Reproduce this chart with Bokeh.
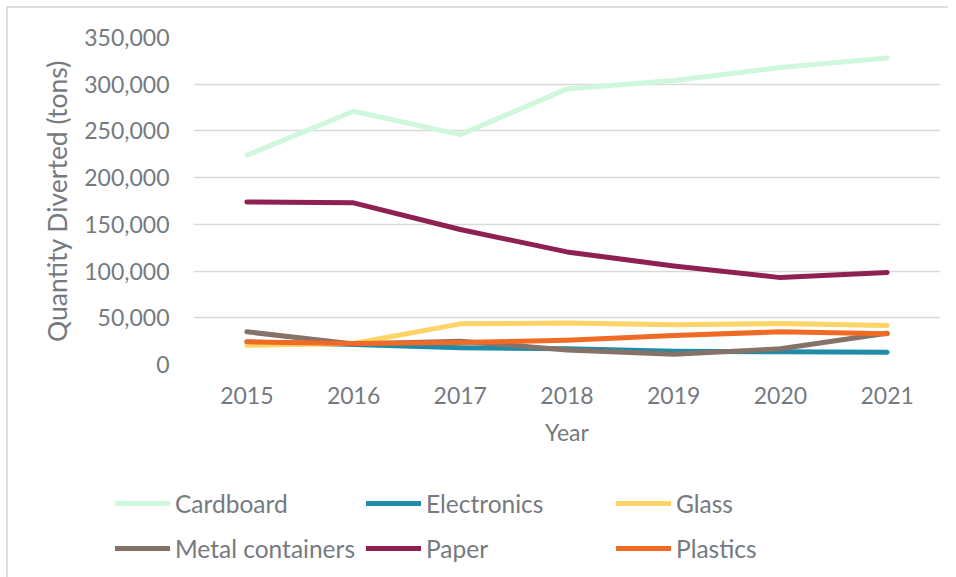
from bokeh.plotting import figure
from bokeh.layouts import column, row
from bokeh.models import Range1d, NumeralTickFormatter, Legend, LegendItem, FixedTicker
from bokeh.embed import file_html
from bokeh.resources import INLINE

years = ["2015", "2016", "2017", "2018", "2019", "2020", "2021"]
cardboard = [224000, 271000, 246000, 295000, 304000, 318000, 328000]
electronics = [24000, 21500, 18000, 16800, 14300, 13600, 13200]
glass = [20500, 22500, 43500, 44500, 42500, 43900, 41800]
metal = [35000, 22000, 25000, 15500, 11000, 16800, 33500]
paper = [174000, 173000, 144500, 120500, 105500, 93000, 98500]
plastics = [24300, 22500, 23500, 26000, 31000, 35000, 32800]
y_ticks = [0, 50000, 100000, 150000, 200000, 250000, 300000, 350000]

series_names = ["Cardboard", "Electronics", "Glass", "Metal containers", "Paper", "Plastics"]
series_vals = [cardboard, electronics, glass, metal, paper, plastics]
colors = ["#CFF7DC", "#1F8CA8", "#FFD466", "#857369", "#8F2152", "#EF6A25"]

FONT = "Lato"
TXT = "#757a80"
LW = 5

p = figure(x_range=years, y_range=Range1d(0, 350000),
           frame_width=747, frame_height=327,
           min_border_left=185, min_border_top=29, min_border_right=8, min_border_bottom=95,
           output_backend="svg", toolbar_location=None)
p.outline_line_color = None

for vals, c in zip(series_vals, colors):
    p.line(years, vals, line_color=c, line_width=LW, line_cap="round", line_join="round")

p.yaxis.ticker = FixedTicker(ticks=y_ticks)
p.yaxis.formatter = NumeralTickFormatter(format="0,0")
for ax in (p.xaxis[0], p.yaxis[0]):
    ax.axis_line_color = None
    ax.major_tick_line_color = None
    ax.minor_tick_line_color = None
    ax.major_label_text_font = FONT
    ax.major_label_text_font_size = "23px"
    ax.major_label_text_color = TXT
    ax.axis_label_text_font = FONT
    ax.axis_label_text_font_size = "23px"
    ax.axis_label_text_color = TXT
    ax.axis_label_text_font_style = "normal"

p.yaxis.axis_label = "Quantity Diverted (tons)"
p.yaxis.axis_label_text_font_size = "26.5px"
p.yaxis.major_label_standoff = 18
p.yaxis.axis_label_standoff = 8
p.xaxis.axis_label = "Year"
p.xaxis.major_label_standoff = 16
p.xaxis.axis_label_standoff = 11

p.xgrid.grid_line_color = None
p.ygrid.grid_line_color = "#D9D9D9"
p.ygrid.grid_line_width = 1.5

# legend panel: separate figure; its proxy lines use the real data but lie outside its y range
lg = figure(width=940, height=118, x_range=years, y_range=Range1d(-2, -1),
            min_border_left=0, min_border_right=0, min_border_top=0, min_border_bottom=0,
            output_backend="svg", toolbar_location=None)
lg.outline_line_color = None
lg.axis.visible = False
lg.grid.visible = False
proxies = {}
for name, vals, c in zip(series_names, series_vals, colors):
    proxies[name] = lg.line(years, vals, line_color=c, line_width=LW, line_cap="round")

# grid legend fills column by column: order so rows read like the reference
legend_order = ["Cardboard", "Metal containers", "Electronics", "Paper", "Glass", "Plastics"]
items = [LegendItem(label=n, renderers=[proxies[n]]) for n in legend_order]

legend = Legend(items=items, ncols=3, location=(107, 12),
                label_text_font=FONT, label_text_font_size="24.5px", label_text_color=TXT,
                glyph_width=55, glyph_height=34, label_height=34, label_width=179,
                label_standoff=5, spacing=11,
                padding=0, margin=0, border_line_color=None, background_fill_alpha=0)
lg.add_layout(legend, "center")

layout = column(p, row(lg), spacing=0)
layout.styles = {"margin-left": "6px", "margin-top": "6px",
                 "border-top": "2px solid #DEDEDE", "border-left": "2px solid #DEDEDE"}

open("out.html", "w").write(file_html(layout, INLINE))
